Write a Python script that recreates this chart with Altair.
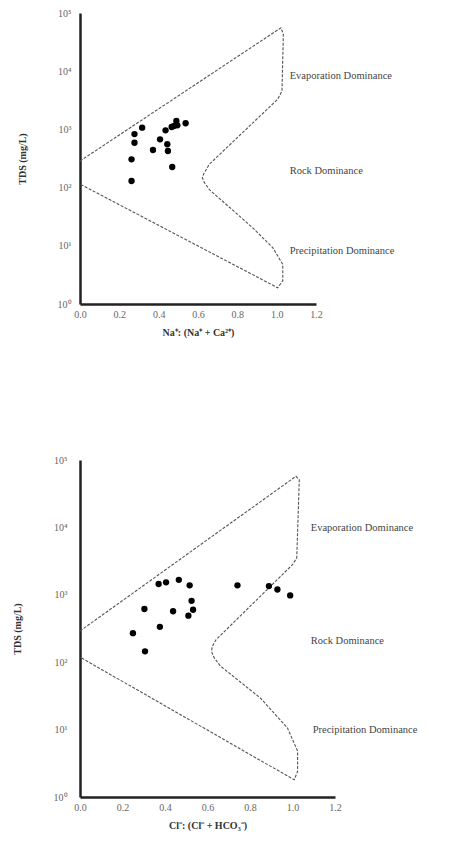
import altair as alt
import pandas as pd

# ---- Data ----
# Top panel: Na+/(Na+ + Ca2+) vs TDS
na_ratio = [0.316, 0.277, 0.277, 0.435, 0.407, 0.371, 0.444, 0.447, 0.262, 0.469,
            0.262, 0.478, 0.490, 0.466, 0.537, 0.495]
na_tds = [1070, 830, 590, 965, 675, 443, 555, 425, 306, 226,
          130, 1143, 1395, 1100, 1275, 1175]

# Bottom panel: Cl-/(Cl- + HCO3-) vs TDS
cl_ratio = [0.370, 0.405, 0.465, 0.516, 0.741, 0.889, 0.929, 0.989, 0.525, 0.532,
            0.303, 0.438, 0.510, 0.376, 0.249, 0.306]
cl_tds = [1445, 1530, 1670, 1380, 1380, 1345, 1200, 980, 815, 600,
          615, 570, 490, 335, 270, 145]

# Gibbs boundary (traced), top panel
top_bx = [0.0, 1.022, 1.034, 1.027, 1.005, 0.657, 0.630, 0.622, 0.632, 0.657,
          0.878, 0.980, 1.031, 1.031, 1.005, 0.0]
top_btds = [286, 55800, 43100, 4570, 3290, 251, 174, 148, 123, 93,
            20.4, 9.3, 4.8, 2.5, 1.9, 115]

# Gibbs boundary (traced), bottom panel
bot_bx = [0.0, 1.016, 1.032, 1.020, 1.000, 0.640, 0.622, 0.619, 0.630, 0.660,
          0.849, 0.976, 1.024, 1.024, 1.008, 0.0]
bot_btds = [290, 57300, 51000, 3520, 2800, 215, 170, 145, 118, 88,
            29.4, 10.6, 4.8, 2.4, 1.8, 119]

zones = ["Evaporation Dominance", "Rock Dominance", "Precipitation Dominance"]
top_zone_x = [1.066, 1.066, 1.066]
top_zone_tds = [8300, 193, 8.1]
bot_zone_x = [1.086, 1.086, 1.095]
bot_zone_tds = [9800, 206, 9.9]

y_ticks = [1, 10, 100, 1000, 10000, 100000]
x_ticks = [0.0, 0.2, 0.4, 0.6, 0.8, 1.0, 1.2]

FONT = "Liberation Serif"
label_expr = ("datum.value == 1 ? '10⁰' : datum.value == 10 ? '10¹' : "
              "datum.value == 100 ? '10²' : datum.value == 1000 ? '10³' : "
              "datum.value == 10000 ? '10⁴' : '10⁵'")


def panel(ratio, tds, bx, btds, zx, ztds, xtitle, w, h, label_pad, title_pad):
    pts = pd.DataFrame({"r": ratio, "tds": tds})
    bnd = pd.DataFrame({"r": bx, "tds": btds, "o": list(range(len(bx)))})
    zn = pd.DataFrame({"r": zx, "tds": ztds, "t": zones})

    xs = alt.Scale(domain=[0, 1.2], nice=False, zero=False)
    ys = alt.Scale(type="log", domain=[1, 100000], nice=False)
    xax = alt.Axis(values=x_ticks, tickCount=20, format=".1f", title=xtitle,
                   grid=False, ticks=False, domainColor="#222", domainWidth=2.5,
                   labelOverlap=False, labelFlush=False,
                   labelFont=FONT, labelFontSize=10, labelColor="#666",
                   labelPadding=5, titleFont=FONT, titleFontSize=10,
                   titleFontWeight="bold", titleColor="#333", titlePadding=8)
    yax = alt.Axis(values=y_ticks, tickCount=20, labelExpr=label_expr,
                   title="TDS (mg/L)",
                   grid=False, ticks=False, domainColor="#222", domainWidth=2.5,
                   labelOverlap=False, labelFlush=False,
                   labelFont=FONT, labelFontSize=10, labelColor="#666",
                   labelPadding=label_pad, titleFont=FONT, titleFontSize=10,
                   titleFontWeight="bold", titleColor="#333",
                   titlePadding=title_pad)

    line = alt.Chart(bnd).mark_line(color="#555", strokeWidth=1.1,
                                     strokeDash=[3, 1.5]).encode(
        x=alt.X("r:Q", scale=xs, axis=xax),
        y=alt.Y("tds:Q", scale=ys, axis=yax),
        order="o:Q",
    )
    dots = alt.Chart(pts).mark_circle(color="black", opacity=1, size=40).encode(
        x=alt.X("r:Q", scale=xs, axis=xax), y=alt.Y("tds:Q", scale=ys, axis=yax))
    txt = alt.Chart(zn).mark_text(align="left", baseline="middle", font=FONT,
                                  fontSize=10.5, color="#444").encode(
        x=alt.X("r:Q", scale=xs, axis=xax), y=alt.Y("tds:Q", scale=ys, axis=yax),
        text="t:N")
    return alt.layer(line, dots, txt).properties(width=w, height=h)


top = panel(na_ratio, na_tds, top_bx, top_btds, top_zone_x, top_zone_tds,
            "Na⁺: (Na⁺ + Ca²⁺)", 236, 291, 9, 30)
bot = panel(cl_ratio, cl_tds, bot_bx, bot_btds, bot_zone_x, bot_zone_tds,
            "Cl⁻: (Cl⁻ + HCO₃⁻)", 255, 337, 13, 31)

chart = alt.concat(top, bot, columns=1, spacing=118, align="none").properties(
    padding={"top": 0, "left": 4, "right": 5, "bottom": 5},
    background="white",
).configure_view(stroke=None, strokeWidth=0)

chart.save("out.html", embed_options={"renderer": "svg", "actions": False})
